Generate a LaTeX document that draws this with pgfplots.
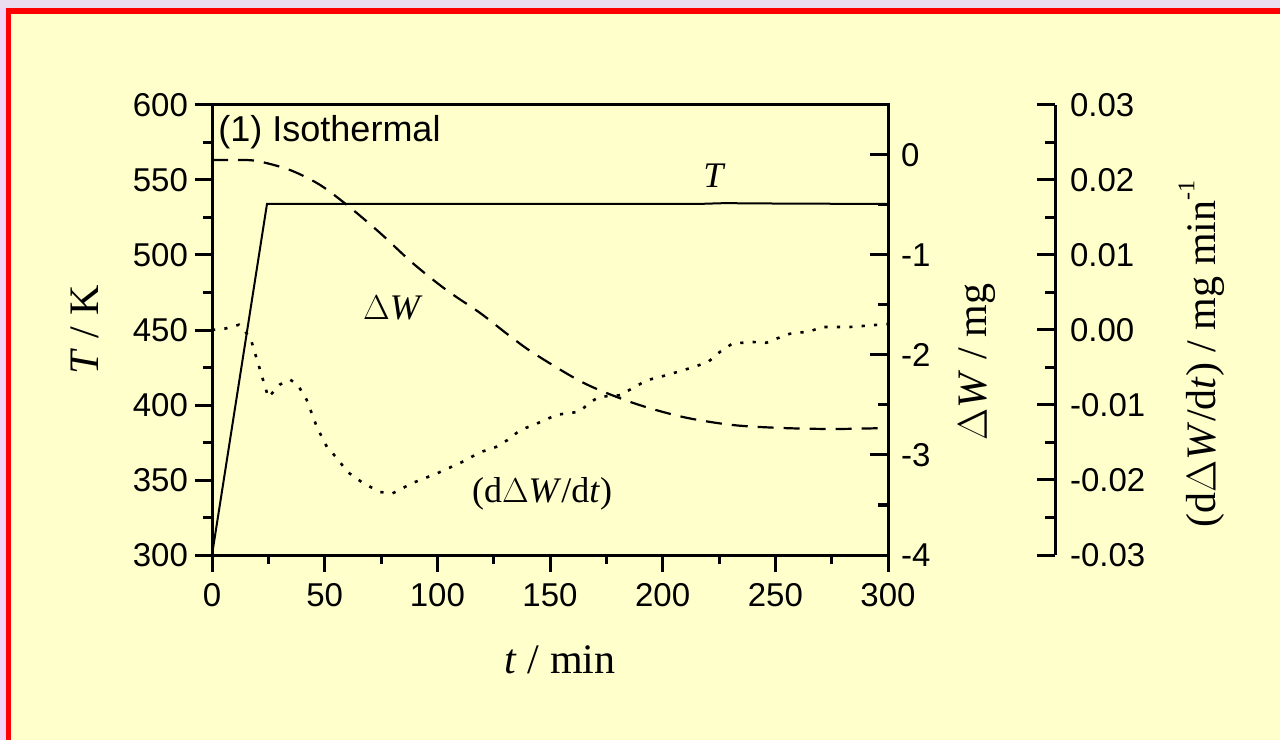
\documentclass[border=0pt]{standalone}
\usepackage{fontspec}
\setmainfont{Liberation Serif}
\newfontfamily\arial{Liberation Sans}
\usepackage{pgfplots}
\pgfplotsset{compat=1.18}
\definecolor{bgyellow}{HTML}{FFFFCC}
\definecolor{lav}{HTML}{EBDDF0}
\definecolor{lavleft}{HTML}{F3D4F6}

\pgfplotsset{
  common/.style={
    width=338pt, height=225pt, scale only axis,
    at={(106pt,92.5pt)}, anchor=south west,
    xmin=0, xmax=300,
    axis line style={line width=1.5pt},
    major tick length=8.5pt, minor tick length=4.5pt,
    every tick/.style={black, line width=1.5pt},
    /pgf/number format/assume math mode=true,
    ticklabel style={font=\arial\fontsize{16.5}{18}\selectfont},
    label style={font=\fontsize{21}{23}\selectfont},
  }
}

\begin{document}
\begin{tikzpicture}
% page background and frame
\fill[bgyellow] (0,0) rectangle (640pt,370pt);
\fill[lav] (0,366pt) rectangle (640pt,370pt);
\fill[lavleft] (0,0) rectangle (3pt,366pt);
\fill[red] (3pt,363pt) rectangle (640pt,366pt);
\fill[red] (3pt,0) rectangle (5.5pt,366pt);

% main axis: T
\begin{axis}[common,
  ymin=300, ymax=600,
  xtick={0,50,...,300}, ytick={300,350,...,600},
  minor x tick num=1, minor y tick num=1,
  xtick pos=bottom, ytick pos=left, tick align=outside,
  xticklabel style={yshift=-2pt},
  xlabel={\textit{t} / min}, ylabel={\textit{T} / K},
  xlabel style={at={(rel axis cs:0.515,-0.233)}, anchor=center},
  ylabel style={at={(rel axis cs:-0.188,0.5)}, anchor=center, rotate=0},
]
\addplot[black, line width=1pt] coordinates {
  (0,300) (24.4,534) (120,534) (215,534) (228,534.6) (238,534.4) (300,534)
};
\node[anchor=west, font=\arial\fontsize{18}{20}\selectfont, inner sep=0pt] at (axis cs:2.7,582) {(1) Isothermal};
\node[font=\fontsize{18}{20}\selectfont] at (axis cs:223,553) {\textit{T}};
\node[font=\fontsize{18}{20}\selectfont] at (axis cs:80.3,464.7) {$\Delta$\textit{W}};
\node[font=\fontsize{18}{20}\selectfont] at (axis cs:146.5,341) {(d$\Delta$\textit{W}/d\textit{t})};
\end{axis}

% second axis: Delta W
\begin{axis}[common,
  ymin=-4, ymax=0.5,
  axis x line=none, axis y line*=right,
  ytick={-4,-3,-2,-1,0}, minor ytick={-3.5,-2.5,-1.5,-0.5},
  tick align=inside,
  major tick length=9pt, minor tick length=5pt,
  yticklabel style={xshift=3pt},
  ylabel={$\Delta$\textit{W} / mg},
  ylabel style={at={(rel axis cs:1.132,0.429)}, anchor=center, rotate=0},
]
\addplot[black, line width=1.1pt, dash pattern=on 8pt off 5pt, smooth] coordinates {
  (0,-0.05) (10,-0.05) (20,-0.06) (34.6,-0.15) (48,-0.30) (61,-0.52)
  (74.6,-0.78) (89,-1.08) (104,-1.35) (119,-1.58) (131,-1.79) (142.6,-1.98)
  (165,-2.28) (187,-2.48) (209,-2.62) (231,-2.70) (253,-2.73) (276,-2.74) (300,-2.73)
};
\end{axis}

% third axis: dW/dt data (hidden axes, same frame)
\begin{axis}[common,
  ymin=-0.03, ymax=0.03,
  hide axis,
]
\addplot[black, line width=1.3pt, dash pattern=on 1.6pt off 4.6pt] coordinates {
  (0,0.0000) (6,0.0002) (12,0.0007) (17,-0.0010) (20,-0.0040) (25,-0.0090)
  (30,-0.0073) (34.6,-0.0066) (38,-0.0073) (42,-0.0093) (46.5,-0.0129)
  (51,-0.0156) (55.5,-0.0171) (60,-0.0189) (67,-0.0204) (74.6,-0.0216)
  (80,-0.0218) (89,-0.0204) (100,-0.0191) (111,-0.0176) (119,-0.0163)
  (126,-0.0156) (131,-0.0147) (137,-0.0133) (142.5,-0.0127) (153,-0.0113)
  (163,-0.0109) (168,-0.0096) (172,-0.0089) (181,-0.0087) (187,-0.0077)
  (193,-0.0067) (202,-0.0060) (212,-0.0051) (220,-0.0043) (225.5,-0.0029)
  (231,-0.0018) (240,-0.0016) (246,-0.0017) (251,-0.0011) (256.5,-0.0005)
  (265,-0.0002) (271,0.0004) (283,0.0004) (300,0.0008)
};
\end{axis}

% third axis line, offset to the right
\begin{axis}[common,
  at={(189.5pt,92.5pt)},
  ymin=-0.03, ymax=0.03,
  axis x line=none, axis y line*=right,
  ytick={-0.03,-0.02,...,0.031}, minor y tick num=1,
  scaled y ticks=false,
  tick align=inside,
  major tick length=9pt, minor tick length=5pt,
  yticklabel style={xshift=4pt, /pgf/number format/fixed, /pgf/number format/fixed zerofill, /pgf/number format/precision=2},
  ylabel={(d$\Delta$\textit{W}/d\textit{t}) / mg min\raisebox{1.1ex}{\fontsize{12}{12}\selectfont -1}},
  ylabel style={at={(rel axis cs:1.217,0.447)}, anchor=center, rotate=0},
]
\end{axis}

\pgfresetboundingbox
\useasboundingbox (0,0) rectangle (640pt,370pt);
\end{tikzpicture}
\end{document}
